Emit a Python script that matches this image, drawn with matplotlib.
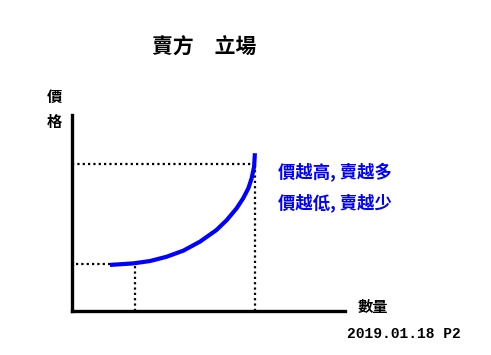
import numpy as np
import matplotlib
matplotlib.use('Agg')
import matplotlib.pyplot as plt

plt.rcParams['font.family'] = ['Noto Sans CJK TC', 'DejaVu Sans']

# ---- 資料 ----
# 供給曲線 (數量, 價格)
qty = [13.9, 22.5, 28.6, 34.7, 40.8, 46.9, 52.9, 56.7, 60.3, 62.7, 64.6, 65.8, 66.7, 67.0]
price = [23.5, 24.3, 25.5, 27.7, 30.8, 35.4, 41.3, 46.4, 52.4, 57.5, 62.6, 67.7, 73.6, 80.5]

# 虛線標示的兩組點
q_low, p_low = 23.0, 24.0
q_high, p_high = 67.0, 75.0

title = '賣方　立場'
label_y = ['價', '格']
label_x = '數量'
notes = ['價越高, 賣越多', '價越低, 賣越少']
footer = '2019.01.18 P2'

W, H = 491, 355
fig = plt.figure(figsize=(W / 100, H / 100), dpi=100)
fig.patch.set_facecolor('white')

# 軸區域 (像素換算)
ax = fig.add_axes([72 / W, (H - 311) / H, 273 / W, 196 / H])
ax.set_xlim(0, 100)
ax.set_ylim(0, 100)
for s in ['top', 'right']:
    ax.spines[s].set_visible(False)
for s in ['left', 'bottom']:
    ax.spines[s].set_linewidth(2.4)
    ax.spines[s].set_color('black')
ax.set_xticks([])
ax.set_yticks([])

dot = dict(color='black', lw=1.6, linestyle=(0, (1, 1.4)))
ax.plot([0, q_high], [p_high, p_high], **dot)
ax.plot([q_high, q_high], [0, p_high], **dot)
ax.plot([1.5, q_low], [p_low, p_low], **dot)
ax.plot([q_low, q_low], [0, p_low], **dot)

ax.plot(qty, price, color='#0000ff', lw=3.0, solid_capstyle='butt', solid_joinstyle='round')


def px(x, y):
    return x / W, 1 - y / H


fig.text(*px(204, 47), title, fontsize=15, fontweight='bold', ha='center', va='center')
fig.text(*px(54, 97), label_y[0], fontsize=11, fontweight='bold', ha='center', va='center')
fig.text(*px(54, 122), label_y[1], fontsize=11, fontweight='bold', ha='center', va='center')
fig.text(*px(373, 307), label_x, fontsize=11, fontweight='bold', ha='center', va='center')
fig.text(*px(278, 173), notes[0], fontsize=12.5, color='#0000ff', fontweight='bold', ha='left', va='center')
fig.text(*px(278, 203), notes[1], fontsize=12.5, color='#0000ff', fontweight='bold', ha='left', va='center')
fig.text(*px(404, 334), footer, fontsize=10.5, fontweight='bold', family='Liberation Mono',
         ha='center', va='center')

fig.savefig('out.png', dpi=100, facecolor='white')
